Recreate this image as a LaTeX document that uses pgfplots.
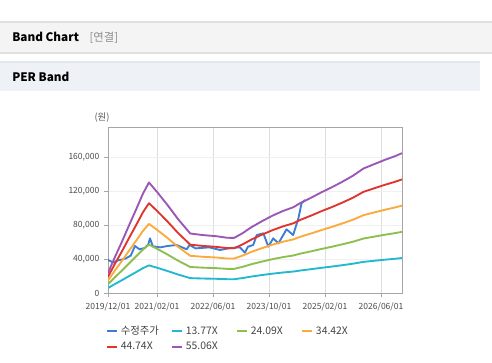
\documentclass[border=0pt]{standalone}
\usepackage{pgfplots}
\pgfplotsset{compat=1.18}
\usepackage{pgfplotstable}
\usepackage{fontspec}
\setmainfont{Noto Sans CJK KR}
\definecolor{cBlue}{HTML}{3C7DD6}
\definecolor{cCyan}{HTML}{22B8CF}
\definecolor{cGreen}{HTML}{8CBF4E}
\definecolor{cOrange}{HTML}{FBAA3C}
\definecolor{cRed}{HTML}{E0352F}
\definecolor{cPurple}{HTML}{9A57B5}
\definecolor{barGray}{HTML}{F4F4F4}
\definecolor{barLine}{HTML}{E0E0E0}
\definecolor{barBlue}{HTML}{EEF1F6}
\definecolor{barBlueLine}{HTML}{E3E6EB}
\definecolor{legText}{HTML}{444444}

\pgfplotstableread{
m P R O G C
0 23500 19095 14691 10282 5877
2 42500 34534 26568 18595 10629
4 60500 49160 37821 26470 15130
6 79500 64599 49699 34783 19882
8 98000 79632 61264 42877 24509
10 117000 95071 73141 51190 29261
11.7 130000 105634 81268 56878 32512
14 119000 96696 74392 52065 29761
17 103500 84101 64702 45283 25884
20 87000 70694 54387 38064 21758
23.5 70000 56880 43760 30626 17506
27 68200 55417 42635 29839 17056
31 66800 54280 41759 29226 16706
34 65000 52817 40634 28439 16256
36 64800 52655 40509 28351 16206
38.5 70500 57286 44072 30845 17631
41 77500 62974 48448 33908 19382
44 84500 68662 52824 36970 21133
47 91000 73944 56888 39814 22758
50 96500 78413 60326 42221 24134
53 101000 82070 63139 44190 25259
55 106000 86132 66265 46377 26510
58 112000 91008 70016 49002 28010
61 118500 96290 74079 51846 29636
64 124500 101165 77830 54471 31136
67 131000 106447 81893 57315 32762
70 138000 112135 86269 60378 34512
73 146500 119042 91583 64097 36638
76 151500 123104 94709 66284 37889
79 156500 127167 97834 68472 39139
82 161000 130824 100648 70441 40264
84 164500 133668 102836 71972 41140
}\bands

\pgfplotstableread{
m V
0 38800
1.5 36000
3 38500
5 40500
6.5 44000
7.7 55300
9 51400
10.5 53000
11.5 57000
12 64300
12.8 55000
14.9 53700
17 55300
19.6 56500
22.5 51400
23.3 56500
25 52500
29 53700
32 50600
35 53000
37.7 53700
39.1 47500
40 54500
41.5 56500
42.5 68200
44.4 70200
45.8 54500
47.2 64300
48.7 58400
51 74900
52.9 68200
54.4 87900
55.3 105500
56.3 109400
}\price

\begin{document}
\begin{tikzpicture}
% page frame
\fill[white] (0,0) rectangle (369pt,271.5pt);
% Band Chart header bar
\fill[barGray] (0,232.5pt) rectangle (369pt,255pt);
\fill[barLine] (0,254.5pt) rectangle (369pt,256pt);
\fill[black!12] (0,231pt) rectangle (369pt,232.5pt);
\node[anchor=west, inner sep=0pt, font=\bfseries\fontsize{8.8}{11}\selectfont] at (9pt,243.5pt) {Band Chart};
\node[anchor=west, inner sep=0pt, text=black!45, font=\fontsize{8.5}{10}\selectfont] at (67pt,243.5pt) {[연결]};
% PER Band bar
\fill[barBlue] (0,203.25pt) rectangle (360pt,225pt);
\fill[barBlueLine] (0,224pt) rectangle (360pt,225.5pt);
\node[anchor=west, inner sep=0pt, font=\bfseries\fontsize{8.8}{11}\selectfont] at (9pt,213.75pt) {PER Band};
% unit label
\node[anchor=center, inner sep=0pt, text=black!65, font=\fontsize{7}{8}\selectfont] at (76.5pt,183.5pt) {(원)};

\begin{axis}[
  at={(81pt,51.75pt)}, anchor=south west,
  scale only axis, width=220.5pt, height=124.5pt,
  xmin=0, xmax=84, ymin=0, ymax=195300,
  xtick={0,14,30,46,62,78},
  xticklabels={2019/12/01,2021/02/01,2022/06/01,2023/10/01,2025/02/01,2026/06/01},
  ytick={0,40000,80000,120000,160000},
  yticklabels={0,{40,000},{80,000},{120,000},{160,000}},
  scaled y ticks=false,
  tick label style={font=\fontsize{6.4}{7}\selectfont, text=black!70},
  xticklabel style={yshift=-1pt},
  axis line style={black!35},
  tick style={black!35},
  tick pos=left, tick align=outside, major tick length=3pt,
  xmajorgrids, ymajorgrids,
  x grid style={black!13},
  y grid style={black!6},
  legend columns=4,
  legend style={at={(-0.02,-0.165)}, anchor=north west, draw=none, fill=none,
    font=\fontsize{7.8}{9}\selectfont, text=legText,
    /tikz/every even column/.append style={column sep=0pt}},
  legend cell align=left,
  every axis plot/.append style={line width=1.4pt, line join=round},
]
\addlegendimage{legend image code/.code={\draw[cBlue, line width=1.3pt] (0pt,0pt) -- (7.5pt,0pt);}}
\addlegendentry{\makebox[36pt][l]{수정주가}}
\addlegendimage{legend image code/.code={\draw[cCyan, line width=1.3pt] (0pt,0pt) -- (7.5pt,0pt);}}
\addlegendentry{\makebox[36pt][l]{13.77X}}
\addlegendimage{legend image code/.code={\draw[cGreen, line width=1.3pt] (0pt,0pt) -- (7.5pt,0pt);}}
\addlegendentry{\makebox[36pt][l]{24.09X}}
\addlegendimage{legend image code/.code={\draw[cOrange, line width=1.3pt] (0pt,0pt) -- (7.5pt,0pt);}}
\addlegendentry{\makebox[36pt][l]{34.42X}}
\addlegendimage{legend image code/.code={\draw[cRed, line width=1.3pt] (0pt,0pt) -- (7.5pt,0pt);}}
\addlegendentry{\makebox[36pt][l]{44.74X}}
\addlegendimage{legend image code/.code={\draw[cPurple, line width=1.3pt] (0pt,0pt) -- (7.5pt,0pt);}}
\addlegendentry{\makebox[36pt][l]{55.06X}}
\addplot[cBlue, forget plot] table[x=m,y=V] {\price};
\addplot[cCyan, forget plot] table[x=m,y=C] {\bands};
\addplot[cGreen, forget plot] table[x=m,y=G] {\bands};
\addplot[cOrange, forget plot] table[x=m,y=O] {\bands};
\addplot[cRed, forget plot] table[x=m,y=R] {\bands};
\addplot[cPurple, forget plot] table[x=m,y=P] {\bands};
\end{axis}
\end{tikzpicture}
\end{document}
